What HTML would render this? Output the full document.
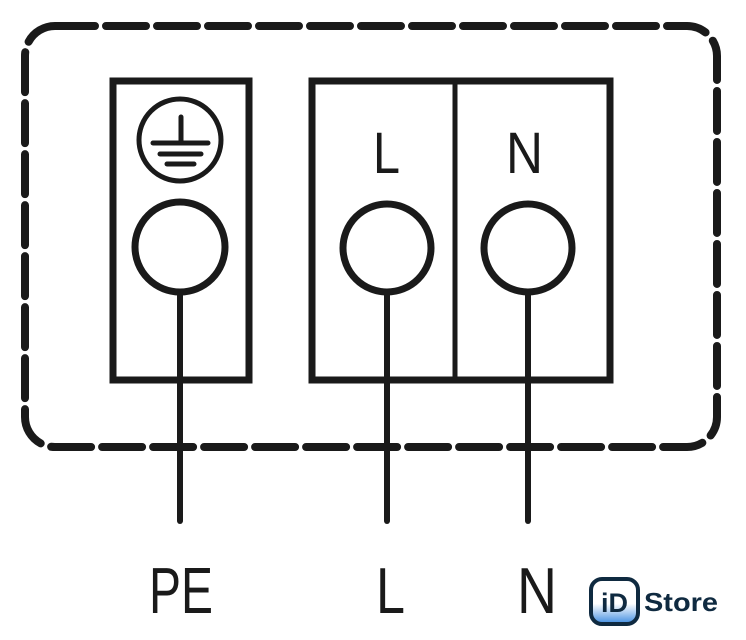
<!DOCTYPE html>
<html><head><meta charset="utf-8"><style>
html,body{margin:0;padding:0;background:#fff;width:746px;height:640px;overflow:hidden}
</style></head><body>
<svg width="746" height="640" viewBox="0 0 746 640" xmlns="http://www.w3.org/2000/svg">
<defs><linearGradient id="g" x1="0" y1="0" x2="0" y2="1"><stop offset="0.55" stop-color="#fff"/><stop offset="1" stop-color="#3d8be0"/></linearGradient></defs>
<rect x="25" y="26" width="692" height="421" rx="30" fill="none" stroke="#1a1a1a" stroke-width="8" stroke-dasharray="40 11" stroke-linecap="round"/>
<g fill="none" stroke="#1a1a1a">
<rect x="113" y="81" width="136" height="299" stroke-width="7"/>
<rect x="312" y="81" width="298" height="299" stroke-width="7"/>
<line x1="455" y1="81" x2="455" y2="380" stroke-width="5"/>
<circle cx="180" cy="140" r="41" stroke-width="5"/>
<circle cx="180" cy="247" r="45" stroke-width="7"/>
<circle cx="387" cy="248" r="44" stroke-width="7"/>
<circle cx="528" cy="248" r="44" stroke-width="7"/>
<g stroke-width="6" stroke-linecap="round">
<line x1="180" y1="292" x2="180" y2="521"/>
<line x1="387" y1="292" x2="387" y2="521"/>
<line x1="528" y1="292" x2="528" y2="521"/>
</g>
<g stroke-width="5" stroke-linecap="round">
<line x1="181" y1="117" x2="181" y2="142"/>
<line x1="153" y1="143" x2="208" y2="143"/>
<line x1="160" y1="154" x2="201" y2="154"/>
<line x1="167" y1="164" x2="194" y2="164"/>
</g>
</g>
<g font-family="Liberation Sans Narrow, Liberation Sans, sans-serif" fill="#1a1a1a">
<text x="373" y="173" font-size="58" textLength="27" lengthAdjust="spacingAndGlyphs">L</text>
<text x="506" y="173" font-size="58" textLength="37" lengthAdjust="spacingAndGlyphs">N</text>
<text x="149" y="613" font-size="65" textLength="64" lengthAdjust="spacingAndGlyphs">PE</text>
<text x="376" y="613" font-size="65" textLength="29" lengthAdjust="spacingAndGlyphs">L</text>
<text x="517" y="613" font-size="65" textLength="40" lengthAdjust="spacingAndGlyphs">N</text>
</g>
<rect x="591" y="579" width="47" height="45" rx="11" fill="url(#g)" stroke="#0f2a40" stroke-width="4"/>
<text x="614.5" y="612" text-anchor="middle" font-family="Liberation Sans, sans-serif" font-weight="bold" font-size="27" fill="#0f2a40">iD</text>
<text x="644" y="611" font-family="Liberation Sans, sans-serif" font-weight="bold" font-size="26" fill="#0f2a40" textLength="74" lengthAdjust="spacingAndGlyphs">Store</text>
</svg>
</body></html>
